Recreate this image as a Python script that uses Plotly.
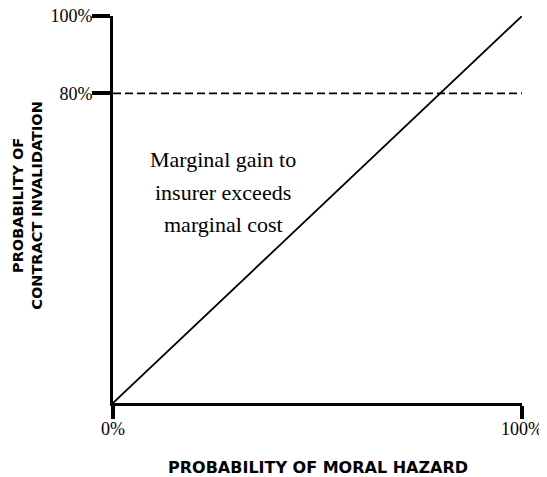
import plotly.graph_objects as go

# Data
diag_x = [0, 100]
diag_y = [0, 100]
threshold = 80
x_ticks = [0, 100]
x_tick_labels = ["0%", "100%"]
y_ticks = [80, 100]
y_tick_labels = ["80%", "100%"]
region_lines = ["Marginal gain to", "insurer exceeds", "marginal cost"]
x_title = "PROBABILITY OF MORAL HAZARD"
y_title = "PROBABILITY OF<br>CONTRACT INVALIDATION"

fig = go.Figure()
fig.add_trace(go.Scatter(x=[0, 100.5], y=[threshold, threshold], mode="lines",
                         line=dict(color="black", width=1.6, dash="8px,4px"),
                         hoverinfo="skip", showlegend=False, cliponaxis=False))
fig.add_trace(go.Scatter(x=diag_x, y=diag_y, mode="lines",
                         line=dict(color="black", width=1.8),
                         hoverinfo="skip", showlegend=False))

serif = "Liberation Serif"
sans = "DejaVu Sans"

for i, line in enumerate(region_lines):
    fig.add_annotation(x=26.9, y=54.5, xref="x", yref="y", text=line,
                       yshift=(1 - i) * 32.5,
                       showarrow=False, align="center",
                       font=dict(family=serif, size=22, color="black"))
fig.add_annotation(x=0.5, y=0, xref="paper", yref="paper", yshift=-64,
                   text=x_title, showarrow=False, xanchor="center", yanchor="middle",
                   font=dict(family=sans, size=16, color="black", weight="bold"))
fig.add_annotation(x=0, y=0.51, xref="paper", yref="paper", xshift=-85,
                   text=y_title, showarrow=False, textangle=-90,
                   xanchor="center", yanchor="middle", align="center",
                   font=dict(family=sans, size=14.5, color="black", weight="bold"))

fig.update_xaxes(range=[0, 100], tickvals=x_ticks, ticktext=x_tick_labels,
                 showgrid=False, zeroline=False, showline=True, linewidth=3,
                 linecolor="black", ticks="outside", ticklen=13, tickwidth=4,
                 tickcolor="black", automargin=False, ticklabeloverflow="allow",
                 ticklabelstandoff=-6,
                 tickfont=dict(family=serif, size=18, color="black"))
fig.update_yaxes(range=[0, 100], tickvals=y_ticks, ticktext=y_tick_labels,
                 showgrid=False, zeroline=False, showline=True, linewidth=3,
                 linecolor="black", ticks="outside", ticklen=18, tickwidth=4,
                 tickcolor="black", automargin=False, ticklabeloverflow="allow",
                 ticklabelstandoff=-4,
                 tickfont=dict(family=serif, size=18, color="black"))

# the page body adds an 8px offset, so margins compensate for it
fig.update_layout(width=547, height=477,
                  margin=dict(l=105, r=33, t=8, b=82),
                  plot_bgcolor="white", paper_bgcolor="white",
                  showlegend=False)

fig.write_html("out.html")
